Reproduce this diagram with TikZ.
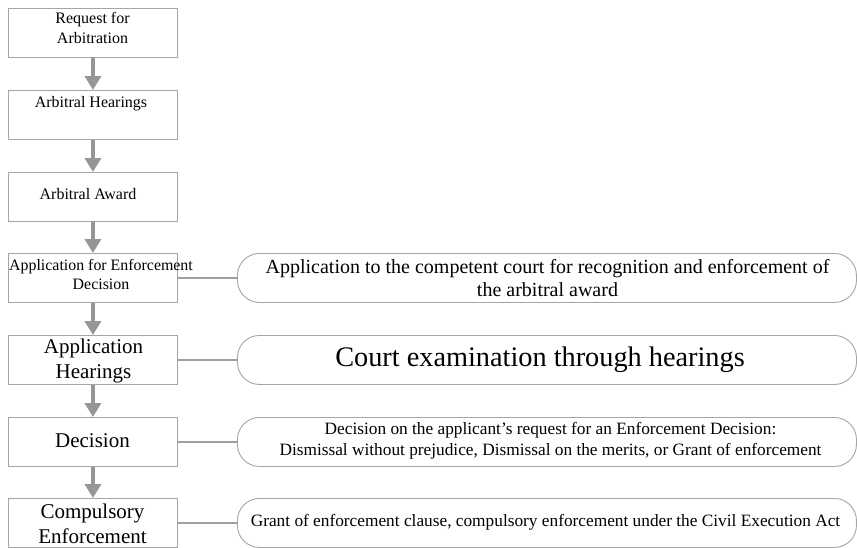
\documentclass[tikz,border=0pt]{standalone}
\usepackage{fontspec}
\setmainfont{Liberation Serif}
\usetikzlibrary{arrows.meta}
\definecolor{arrowgray}{RGB}{150,150,150}
\definecolor{boxgray}{RGB}{165,165,165}
\definecolor{linegray}{RGB}{160,160,160}
\tikzset{
  lbox/.style={draw=boxgray, line width=0.9pt, minimum width=169pt, minimum height=49pt, inner sep=0pt, anchor=north west},
  rbox/.style={draw=boxgray, line width=0.9pt, rounded corners=22pt, minimum width=619pt, minimum height=49pt, inner sep=0pt, anchor=north west},
  flowarrow/.style={draw=arrowgray, line width=4pt, -{Triangle[width=16pt,length=14pt]}, arrowgray, shorten >=0pt},
  link/.style={draw=linegray, line width=1.4pt},
  txt/.style={align=center, inner sep=0pt, text=black},
}
\begin{document}
\begin{tikzpicture}[x=1pt,y=1pt]
\clip (0,0) rectangle (857,-547);
\fill[white] (0,0) rectangle (857,-547);
% left boxes
\node[lbox] (b1) at (8,-8) {};
\node[lbox] (b2) at (8,-90) {};
\node[lbox] (b3) at (8,-172) {};
\node[lbox] (b4) at (8,-253) {};
\node[lbox] (b5) at (8,-335) {};
\node[lbox] (b6) at (8,-417) {};
\node[lbox] (b7) at (8,-498) {};
% right boxes
\node[rbox] (r4) at (237,-253) {};
\node[rbox] (r5) at (237,-335) {};
\node[rbox] (r6) at (237,-417) {};
\node[rbox] (r7) at (237,-498) {};
% texts
\node[txt, font=\fontsize{16}{20}\selectfont] (t1) at (92.5,-28) {Request for\\Arbitration};
\node[txt, font=\fontsize{16}{20}\selectfont] (t2) at (91,-104) {Arbitral Hearings};
\node[txt, font=\fontsize{16}{20}\selectfont] (t3) at (88,-194) {Arbitral Award};
\node[txt, font=\fontsize{15.9}{19}\selectfont] (t4) at (101,-274) {Application for Enforcement\\Decision};
\node[txt, font=\fontsize{21}{25}\selectfont] (t5) at (93.5,-361) {Application\\Hearings};
\node[txt, font=\fontsize{21}{25}\selectfont] (t6) at (92.5,-441) {Decision};
\node[txt, font=\fontsize{21}{25}\selectfont] (t7) at (92.5,-524) {Compulsory\\Enforcement};
\node[txt, font=\fontsize{20}{23}\selectfont] (u4) at (547.5,-278) {Application to the competent court for recognition and enforcement of\\the arbitral award};
\node[txt, font=\fontsize{28.3}{30}\selectfont] (u5) at (540,-360) {Court examination through hearings};
\node[txt, font=\fontsize{17.3}{21}\selectfont] (u6) at (550.5,-441) {Decision on the applicant’s request for an Enforcement Decision:\\Dismissal without prejudice, Dismissal on the merits, or Grant of enforcement};
\node[txt, font=\fontsize{17.3}{21}\selectfont] (u7) at (545.5,-522) {Grant of enforcement clause, compulsory enforcement under the Civil Execution Act};
% arrows
\draw[flowarrow] (b1.south) -- (b2.north);
\draw[flowarrow] (b2.south) -- (b3.north);
\draw[flowarrow] (b3.south) -- (b4.north);
\draw[flowarrow] (b4.south) -- (b5.north);
\draw[flowarrow] (b5.south) -- (b6.north);
\draw[flowarrow] (b6.south) -- (b7.north);
% links
\draw[link] (b4.east) -- (r4.west);
\draw[link] (b5.east) -- (r5.west);
\draw[link] (b6.east) -- (r6.west);
\draw[link] (b7.east) -- (r7.west);
\end{tikzpicture}
\end{document}
